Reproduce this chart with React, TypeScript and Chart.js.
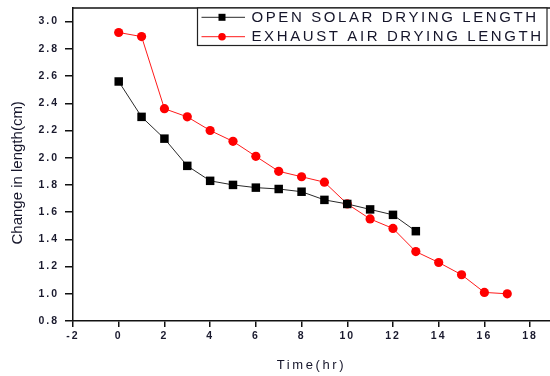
import React, { useEffect, useRef } from "react";
import { Chart, registerables } from "chart.js";

Chart.register(...registerables);

const openHours = [0, 1, 2, 3, 4, 5, 6, 7, 8, 9, 10, 11, 12, 13];
const openLength = [2.56, 2.30, 2.14, 1.94, 1.83, 1.80, 1.78, 1.77, 1.75, 1.69, 1.66, 1.62, 1.58, 1.46];
const exhaustHours = [0, 1, 2, 3, 4, 5, 6, 7, 8, 9, 10, 11, 12, 13, 14, 15, 16, 17];
const exhaustLength = [2.92, 2.89, 2.36, 2.30, 2.20, 2.12, 2.01, 1.90, 1.86, 1.82, 1.66, 1.55, 1.48, 1.31, 1.23, 1.14, 1.01, 1.00];
const seriesNames = ["OPEN SOLAR DRYING LENGTH", "EXHAUST AIR DRYING LENGTH"];
const xTitle = "Time(hr)";
const yTitle = "Change in length(cm)";

const FONT = "'Liberation Sans', Arial, sans-serif";

const framePlugin = {
  id: "frameAndLegend",
  beforeDraw(chart: any) {
    const ctx = chart.ctx;
    ctx.letterSpacing = "2px";
    const ys = chart.scales.y;
    if (ys && !ys.__patched) {
      const orig = ys.drawTitle;
      ys.drawTitle = function () {
        const c = this.ctx;
        const prev = c.letterSpacing;
        c.letterSpacing = "0px";
        orig.call(this);
        c.letterSpacing = prev;
      };
      ys.__patched = true;
    }
    const xs = chart.scales.x;
    if (xs && !xs.__patched) {
      const origX = xs.drawTitle;
      xs.drawTitle = function () {
        const c = this.ctx;
        const prev = c.letterSpacing;
        c.letterSpacing = "2.6px";
        origX.call(this);
        c.letterSpacing = prev;
      };
      xs.__patched = true;
    }
  },
  afterDraw(chart: any) {
    const ctx = chart.ctx;
    const { left, right, top } = chart.chartArea;
    ctx.save();
    ctx.strokeStyle = "#111";
    ctx.lineWidth = 1.5;
    ctx.beginPath();
    ctx.moveTo(left, top);
    ctx.lineTo(right, top);
    ctx.stroke();

    // legend box
    const bx = 197.5, by = top, bw = 349.5, bh = 37.5;
    ctx.fillStyle = "#fff";
    ctx.fillRect(bx, by, bw, bh);
    ctx.lineWidth = 1.2;
    ctx.strokeStyle = "#222";
    ctx.strokeRect(bx, by, bw, bh);
    const rows = [17.3, 36.7];
    chart.data.datasets.forEach((ds: any, i: number) => {
      const ry = rows[i];
      ctx.strokeStyle = ds.borderColor;
      ctx.lineWidth = 1;
      ctx.beginPath();
      ctx.moveTo(201.5, ry);
      ctx.lineTo(245, ry);
      ctx.stroke();
      ctx.fillStyle = ds.pointBackgroundColor;
      if (ds.pointStyle === "rect") {
        ctx.fillRect(222 - 3.5, ry - 3.5, 7, 7);
      } else {
        ctx.beginPath();
        ctx.arc(222, ry, 3.8, 0, Math.PI * 2);
        ctx.fill();
      }
      ctx.fillStyle = "#15152a";
      ctx.font = `15px ${FONT}`;
      ctx.letterSpacing = "2.6px";
      ctx.textAlign = "left";
      ctx.textBaseline = "middle";
      ctx.fillText(ds.label, 251.5, ry + 0.5);
    });
    ctx.restore();
  },
};

export default function App() {
  const ref = useRef<HTMLCanvasElement>(null);
  useEffect(() => {
    if (!ref.current) return;
    const chart = new Chart(ref.current, {
      type: "line",
      data: {
        datasets: [
          {
            label: seriesNames[0],
            data: openHours.map((h, i) => ({ x: h, y: openLength[i] })),
            borderColor: "#2a2a2a",
            backgroundColor: "#000",
            pointBackgroundColor: "#000",
            pointBorderColor: "#000",
            pointStyle: "rect",
            pointRadius: 6,
            pointBorderWidth: 0,
            borderWidth: 1,
            tension: 0,
          },
          {
            label: seriesNames[1],
            data: exhaustHours.map((h, i) => ({ x: h, y: exhaustLength[i] })),
            borderColor: "#ff1a1a",
            backgroundColor: "#ff0000",
            pointBackgroundColor: "#ff0000",
            pointBorderColor: "#ff0000",
            pointStyle: "circle",
            pointRadius: 4.6,
            pointBorderWidth: 0,
            borderWidth: 1,
            tension: 0,
          },
        ],
      },
      options: {
        responsive: false,
        maintainAspectRatio: false,
        animation: false,
        layout: { autoPadding: false, padding: { top: 8, right: 0, left: 0, bottom: 0 } },
        plugins: {
          legend: { display: false },
          tooltip: { enabled: false },
        },
        scales: {
          x: {
            type: "linear",
            min: -2,
            max: 18.87,
            afterFit: (s: any) => {
              s.height = 55;
              s.paddingLeft = 0;
              s.paddingRight = 0;
            },
            border: { display: true, color: "#111", width: 1.5 },
            grid: { drawOnChartArea: false, drawTicks: true, tickLength: 6, color: "#111", lineWidth: 1.5 },
            ticks: {
              stepSize: 2,
              includeBounds: false,
              autoSkip: false,
              maxRotation: 0,
              padding: 3,
              color: "#1a1a2e",
              font: { family: FONT, size: 10.5, weight: "bold" },
              callback: (v: any) => String(v),
            },
            title: {
              display: true,
              text: xTitle,
              color: "#15152a",
              font: { family: FONT, size: 13 },
              padding: { top: 0, bottom: 3 },
            },
          },
          y: {
            type: "linear",
            min: 0.8,
            max: 3.1,
            afterFit: (s: any) => {
              s.width = 73;
              s.paddingTop = 0;
              s.paddingBottom = 0;
            },
            border: { display: true, color: "#111", width: 1.5 },
            grid: { drawOnChartArea: false, drawTicks: true, tickLength: 8, color: "#111", lineWidth: 1.5 },
            ticks: {
              stepSize: 0.2,
              includeBounds: false,
              padding: 6,
              color: "#1a1a2e",
              font: { family: FONT, size: 10.5, weight: "bold" },
              callback: (v: any) => Number(v).toFixed(1),
            },
            title: {
              display: true,
              text: yTitle + "    ",
              color: "#15152a",
              font: { family: FONT, size: 15 },
              padding: { top: 9, bottom: 0 },
            },
          },
        },
      },
      plugins: [framePlugin],
    });
    return () => chart.destroy();
  }, []);
  return (
    <div style={{ position: "fixed", left: 0, top: 0, width: 550, height: 376, background: "#fff" }}>
      <canvas ref={ref} width={550} height={376} style={{ display: "block" }} />
    </div>
  );
}
